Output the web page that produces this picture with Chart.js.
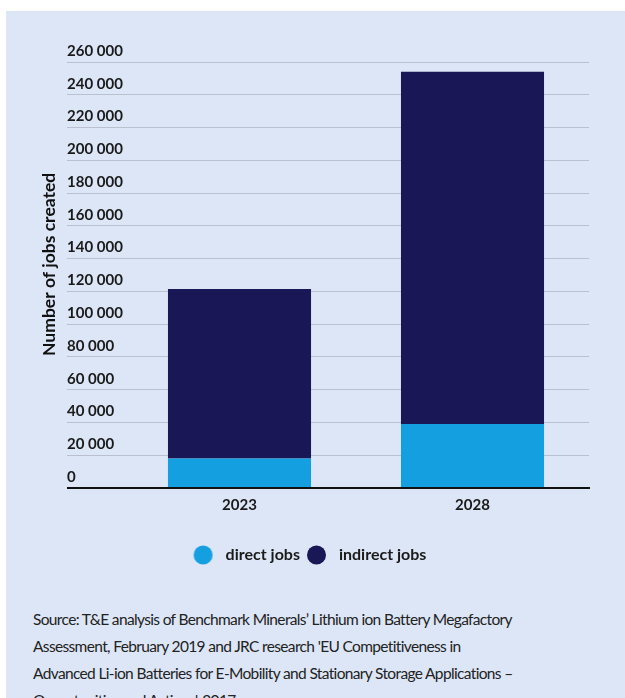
<!DOCTYPE html>
<html lang="en">
<head>
<meta charset="UTF-8">
<title>Jobs created</title>
<script src="https://cdn.jsdelivr.net/npm/chart.js"></script>
<style>
  body { margin: 0; background: #fff; width: 625px; height: 698px; overflow: hidden; position: relative; font-family: Lato, sans-serif; }
  .panel { position: absolute; left: 6px; top: 11px; width: 619px; height: 687px; background: #dde6f6; }
  .chartBox { position: absolute; left: 0; top: 0; width: 619px; height: 562px; }
  .source { position: absolute; left: 27px; top: 595px; font-size: 15.5px; letter-spacing: -0.65px; line-height: 27px; color: #222; white-space: nowrap; }
</style>
</head>
<body>
<div class="panel">
  <div class="chartBox"><canvas id="chart"></canvas></div>
  <div class="source">
    Source: T&amp;E analysis of Benchmark Minerals’ Lithium ion Battery Megafactory<br>
    Assessment, February 2019 and JRC research 'EU Competitiveness in<br>
    Advanced Li-ion Batteries for E-Mobility and Stationary Storage Applications –<br>
    Opportunities and Actions', 2017.
  </div>
</div>

<script>
const years = ['2023', '2028'];
const directJobs = [18000, 39000];
const indirectJobs = [103500, 215000];
const yTicks = [0, 20000, 40000, 60000, 80000, 100000, 120000, 140000, 160000, 180000, 200000, 220000, 240000, 260000];

const LIGHT = '#149fe1';
const NAVY = '#1a1756';

Chart.defaults.font.family = 'Lato, sans-serif';
Chart.defaults.color = '#141414';

// round legend markers, drawn left of centre so the label sits a bit further away
function dot(color) {
    const c = document.createElement('canvas');
    c.width = 42; c.height = 20;
    const g = c.getContext('2d');
    g.fillStyle = color;
    g.beginPath();
    g.arc(14.5, 10, 9.5, 0, Math.PI * 2);
    g.fill();
    return c;
}
const dots = [dot(LIGHT), dot(NAVY)];

const ctx = document.getElementById('chart').getContext('2d');
new Chart(ctx, {
    type: 'bar',
    data: {
        labels: years,
        datasets: [
            { label: 'direct jobs', data: directJobs, backgroundColor: LIGHT },
            { label: 'indirect jobs', data: indirectJobs, backgroundColor: NAVY }
        ]
    },
    options: {
        responsive: true,
        maintainAspectRatio: false,
        animation: false,
        layout: { padding: { left: 33, right: 36, top: 51, bottom: 0 } },
        datasets: { bar: { categoryPercentage: 1, barPercentage: 0.614 } },
        scales: {
            x: {
                stacked: true,
                z: 1,
                afterFit: axis => { axis.height += 10; },
                grid: { display: false, drawTicks: false },
                border: { display: true, color: '#111', width: 2 },
                ticks: { padding: 8, font: { size: 15, weight: 'bold' }, color: '#1a1a1a' }
            },
            y: {
                stacked: true,
                min: 0,
                max: 260000,
                weight: 0,
                afterBuildTicks: axis => { axis.ticks = yTicks.map(v => ({ value: v })); },
                afterFit: axis => { axis.width = 56; },
                border: { display: false },
                grid: {
                    color: c => c.tick.value === 0 ? '#111' : '#b9c0cf',
                    lineWidth: c => c.tick.value === 0 ? 2 : 1,
                    drawTicks: true,
                    tickLength: 56
                },
                ticks: {
                    crossAlign: 'far',
                    padding: 0,
                    labelOffset: -11,
                    font: { size: 15, weight: 'bold' },
                    color: '#1a1a1a',
                    callback: v => v.toLocaleString('en').replace(/,/g, ' ')
                }
            },
            // outer axis that only carries the title
            yTitle: {
                type: 'linear',
                position: 'left',
                display: true,
                weight: 1,
                min: 0,
                max: 1,
                afterFit: axis => { axis.width = 28; },
                border: { display: false },
                grid: { display: false, drawTicks: false },
                ticks: { display: false },
                title: {
                    display: true,
                    text: '     Number of jobs created',
                    font: { size: 17.5, weight: 'bold' },
                    color: '#111',
                    padding: { top: 0, bottom: 0 }
                }
            }
        },
        plugins: {
            tooltip: { enabled: false },
            legend: {
                position: 'bottom',
                labels: {
                    usePointStyle: true,
                    padding: 15,
                    font: { size: 16, weight: 'bold' },
                    color: '#1a1a1a',
                    generateLabels(chart) {
                        const items = Chart.defaults.plugins.legend.labels.generateLabels(chart);
                        items.forEach((it, i) => { it.pointStyle = dots[i]; });
                        return items;
                    }
                }
            }
        }
    }
});
</script>
</body>
</html>
